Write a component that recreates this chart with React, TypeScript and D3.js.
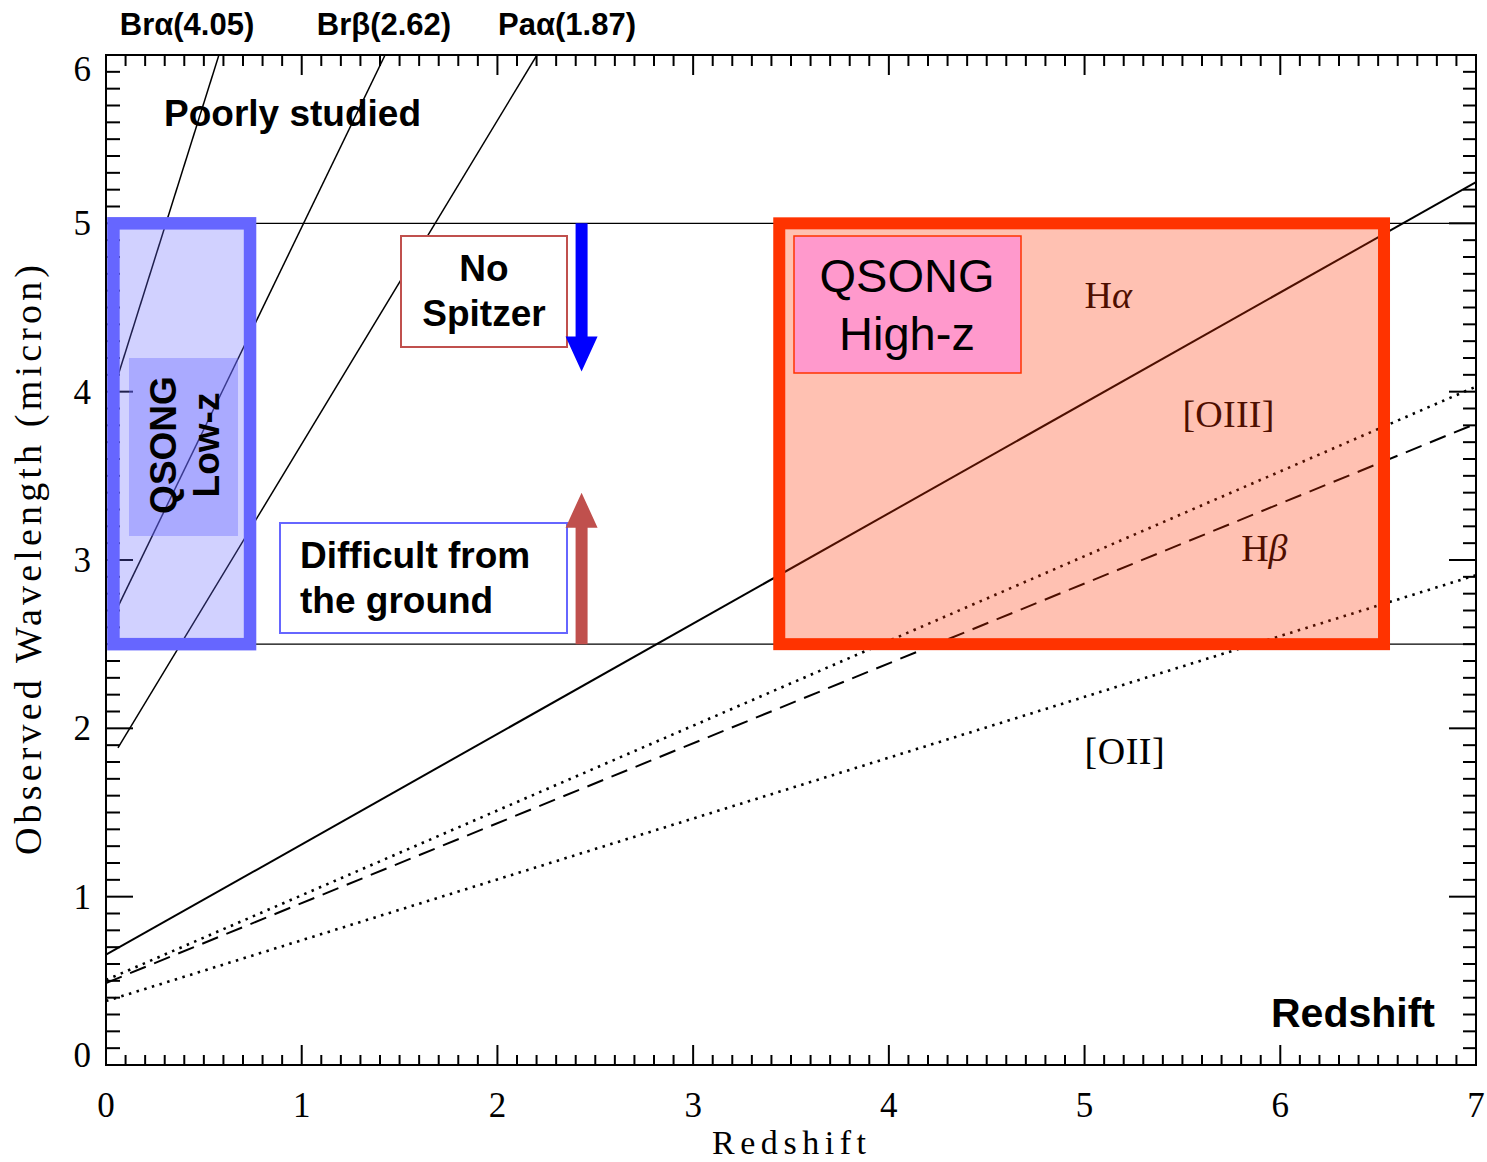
import React from 'react';
import * as d3 from 'd3';

// axis ticks
const xTickLabels = [0, 1, 2, 3, 4, 5, 6, 7];
const yTickLabels = [0, 1, 2, 3, 4, 5, 6];

// optical emission lines, observed wavelength at z = 0 and z = 7
const lineNames = ['Hα', '[OIII]', 'Hβ', '[OII]'];
const lineZ = [0, 7];
const haLambda = [0.655, 5.245];
const o3Lambda = [0.505, 4.03];
const hbLambda = [0.487, 3.81];
const o2Lambda = [0.38, 2.91];

// near-IR lines: [z, wavelength] endpoints
const irLabels = ['Brα(4.05)', 'Brβ(2.62)', 'Paα(1.87)'];
const brAlphaPts: [number, number][] = [[0.06, 4.09], [0.577, 6]];
const brBetaPts: [number, number][] = [[0.06, 2.72], [1.426, 6]];
const paAlphaPts: [number, number][] = [[0.061, 1.884], [2.202, 6]];

// wavelength band (micron) and redshift ranges of the two samples
const bandLimits = [2.5, 5.0];
const lowZRange = [0.038, 0.736];
const highZRange = [3.44, 6.53];

const W = 1487;
const H = 1162;
const SANS = '"Liberation Sans", Arial, sans-serif';
const SERIF = '"Liberation Serif", "Times New Roman", serif';

export default function App() {
  const x = d3.scaleLinear().domain([0, 7]).range([106, 1476]);
  const y = d3.scaleLinear().domain([0, 6]).range([1065, 55]);
  const [x0, x1] = x.range();
  const [y0, y1] = y.range();

  const line = d3.line<[number, number]>().x(d => x(d[0])).y(d => y(d[1]));
  const pts = (lam: number[]) => lineZ.map((z, i) => [z, lam[i]] as [number, number]);

  const isMajor = (v: number) => Math.abs(v - Math.round(v)) < 1e-6;
  const xMinor = x.ticks(70);
  const yMinor = y.ticks(60);

  const arrowX = x(2.43);
  const downArrow = (() => {
    const top = y(bandLimits[1]);
    const tip = y(4.12);
    const base = tip - 35;
    return `M${arrowX - 6},${top} L${arrowX + 6},${top} L${arrowX + 6},${base} L${arrowX + 16},${base} L${arrowX},${tip} L${arrowX - 16},${base} L${arrowX - 6},${base} Z`;
  })();
  const upArrow = (() => {
    const bot = y(bandLimits[0]);
    const tip = y(3.4);
    const base = tip + 35;
    return `M${arrowX - 6},${bot} L${arrowX + 6},${bot} L${arrowX + 6},${base} L${arrowX + 16},${base} L${arrowX},${tip} L${arrowX - 16},${base} L${arrowX - 6},${base} Z`;
  })();

  const lowX = x(lowZRange[0]);
  const lowW = x(lowZRange[1]) - lowX;
  const highX = x(highZRange[0]);
  const highW = x(highZRange[1]) - highX;
  const bandTop = y(bandLimits[1]);
  const bandH = y(bandLimits[0]) - bandTop;

  return (
    <svg width={W} height={H} style={{ position: 'absolute', left: 0, top: 0, display: 'block', background: '#fff' }}>
      <defs>
        <clipPath id="plot">
          <rect x={x0} y={y1} width={x1 - x0} height={y0 - y1} />
        </clipPath>
      </defs>

      {/* frame and ticks */}
      <g stroke="#000" strokeWidth={2} fill="none">
        <rect x={x0} y={y1} width={x1 - x0} height={y0 - y1} />
        {xMinor.map((v, i) => (
          <g key={'xt' + i}>
            <line x1={x(v)} x2={x(v)} y1={y0} y2={y0 - (isMajor(v) ? 20 : 10)} />
            <line x1={x(v)} x2={x(v)} y1={y1} y2={y1 + (isMajor(v) ? 20 : 11)} />
          </g>
        ))}
        {yMinor.map((v, i) => (
          <g key={'yt' + i}>
            <line x1={x0} x2={x0 + (isMajor(v) ? 27 : 14)} y1={y(v)} y2={y(v)} />
            <line x1={x1} x2={x1 - (isMajor(v) ? 27 : 13)} y1={y(v)} y2={y(v)} />
          </g>
        ))}
      </g>
      <g fontFamily={SERIF} fontSize={35} fill="#000">
        {xTickLabels.map(v => (
          <text key={'xl' + v} x={x(v)} y={1117} textAnchor="middle">{v}</text>
        ))}
        {yTickLabels.map(v => (
          <text key={'yl' + v} x={91} y={y(v) + 12 + (v === 0 ? -10 : v === 6 ? 14 : 0)} textAnchor="end">{v}</text>
        ))}
      </g>
      <text x={789} y={1154} fontFamily={SERIF} fontSize={34} textAnchor="middle" textLength={154} lengthAdjust="spacing">Redshift</text>
      <text transform="translate(41,560) rotate(-90)" fontFamily={SERIF} fontSize={38} textAnchor="middle" textLength={590} lengthAdjust="spacing">Observed Wavelength (micron)</text>

      {/* band limits */}
      <g stroke="#000" strokeWidth={1.3}>
        {bandLimits.map(b => (
          <line key={'b' + b} x1={x0} x2={x1} y1={y(b)} y2={y(b)} />
        ))}
      </g>

      {/* redshifted lines */}
      <g clipPath="url(#plot)" fill="none" stroke="#000" strokeWidth={1.8}>
        <path d={line(pts(haLambda)) || ''} strokeWidth={2} />
        <path d={line(pts(o3Lambda)) || ''} strokeDasharray="2.5,5.5" strokeWidth={2.6} />
        <path d={line(pts(hbLambda)) || ''} strokeDasharray="17,9" strokeWidth={2} />
        <path d={line(pts(o2Lambda)) || ''} strokeDasharray="2.5,5.5" strokeWidth={2.6} />
        <path d={line(brAlphaPts) || ''} strokeWidth={1.5} />
        <path d={line(brBetaPts) || ''} strokeWidth={1.5} />
        <path d={line(paAlphaPts) || ''} strokeWidth={1.5} />
      </g>

      <g fontFamily={SERIF} fontSize={38} fill="#000">
        <text x={x(5.0)} y={308}>H<tspan fontStyle="italic">α</tspan></text>
        <text x={x(5.5)} y={427} textLength={92} lengthAdjust="spacing">{lineNames[1]}</text>
        <text x={x(5.8)} y={561}>H<tspan fontStyle="italic">β</tspan></text>
        <text x={x(5.0)} y={764} textLength={80} lengthAdjust="spacing">{lineNames[3]}</text>
      </g>

      {/* QSONG low-z */}
      <rect x={lowX} y={bandTop} width={lowW} height={bandH} fill="#6666ff" fillOpacity={0.3} />
      <rect x={129} y={358} width={109} height={178} fill="#6666ff" fillOpacity={0.37} />
      <rect x={lowX} y={bandTop} width={lowW} height={bandH} fill="none" stroke="#6666ff" strokeWidth={12.5} />
      <g fontFamily={SANS} fontWeight="bold" fontSize={37} fill="#000" textAnchor="middle">
        <text transform="translate(176,445) rotate(-90)">QSONG</text>
        <text transform="translate(219,445) rotate(-90)">Low-z</text>
      </g>

      {/* QSONG high-z */}
      <rect x={highX} y={bandTop} width={highW} height={bandH} fill="#ff3300" fillOpacity={0.3} />
      <rect x={highX} y={bandTop} width={highW} height={bandH} fill="none" stroke="#ff3300" strokeWidth={12} />
      <rect x={794} y={236} width={227} height={137} fill="#ff99cc" stroke="#ff3300" strokeWidth={1.5} />
      <g fontFamily={SANS} fontSize={47} fill="#000" textAnchor="middle">
        <text x={907} y={292}>QSONG</text>
        <text x={907} y={350}>High-z</text>
      </g>

      {/* No Spitzer */}
      <rect x={401} y={236} width={166} height={111} fill="#fff" stroke="#c0504d" strokeWidth={2} />
      <g fontFamily={SANS} fontWeight="bold" fontSize={37} fill="#000" textAnchor="middle">
        <text x={484} y={281}>No</text>
        <text x={484} y={326}>Spitzer</text>
      </g>
      <path d={downArrow} fill="#0000ff" />

      {/* Difficult from the ground */}
      <rect x={280} y={523} width={287} height={110} fill="#fff" stroke="#6666ff" strokeWidth={2} />
      <g fontFamily={SANS} fontWeight="bold" fontSize={37} fill="#000">
        <text x={300} y={568}>Difficult from</text>
        <text x={300} y={613}>the ground</text>
      </g>
      <path d={upArrow} fill="#c0504d" />

      {/* annotations */}
      <g fontFamily={SANS} fontWeight="bold" fill="#000">
        <text x={164} y={126} fontSize={37}>Poorly studied</text>
        <text x={1435} y={1027} fontSize={41} textAnchor="end">Redshift</text>
        <text x={187} y={35} fontSize={31} textAnchor="middle">{irLabels[0]}</text>
        <text x={384} y={35} fontSize={31} textAnchor="middle">{irLabels[1]}</text>
        <text x={567} y={35} fontSize={31} textAnchor="middle">{irLabels[2]}</text>
      </g>
    </svg>
  );
}
